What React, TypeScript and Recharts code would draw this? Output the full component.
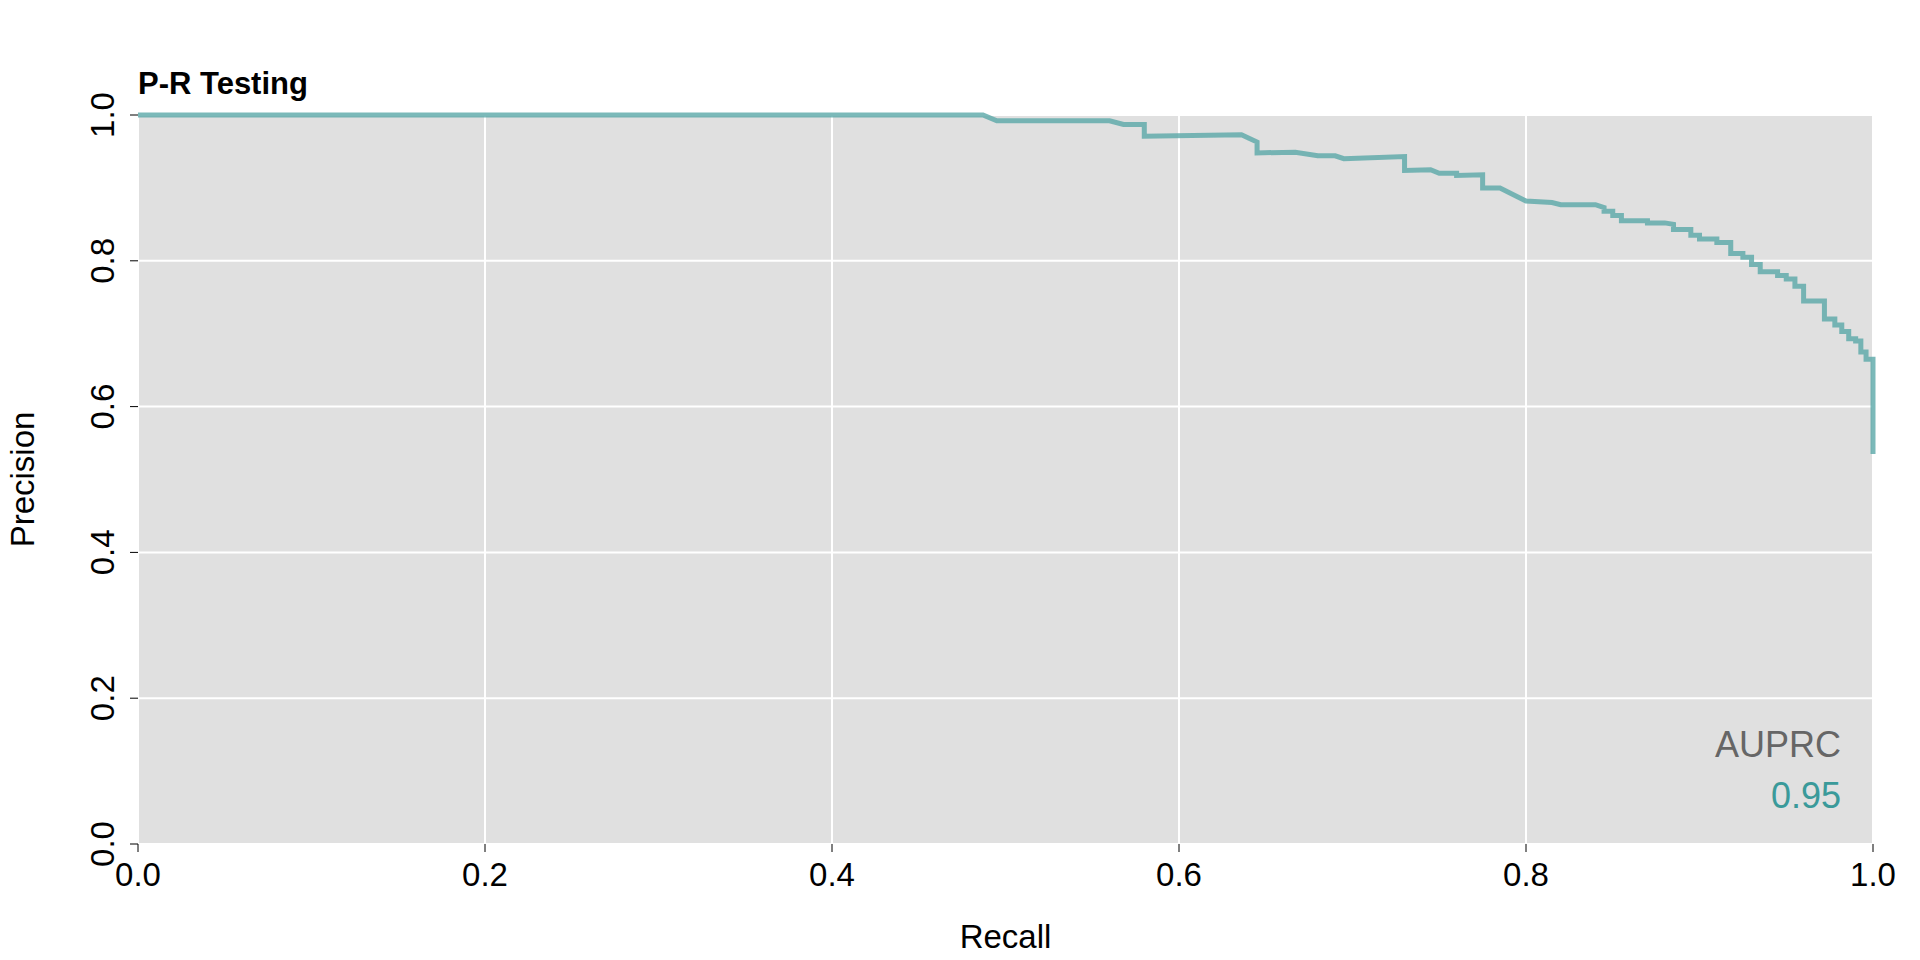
import React from 'react';
import { LineChart, Line, XAxis, YAxis, CartesianGrid, Label } from 'recharts';

const recall = [0, 0.487, 0.495, 0.56, 0.568, 0.58, 0.58, 0.636, 0.645, 0.645, 0.667, 0.68, 0.69, 0.695, 0.73, 0.73, 0.745, 0.75, 0.76, 0.76, 0.775, 0.775, 0.785, 0.8, 0.815, 0.82, 0.84, 0.845, 0.845, 0.85, 0.85, 0.855, 0.855, 0.87, 0.87, 0.88, 0.885, 0.885, 0.895, 0.895, 0.9, 0.9, 0.91, 0.91, 0.918, 0.918, 0.925, 0.925, 0.93, 0.93, 0.935, 0.935, 0.945, 0.945, 0.95, 0.95, 0.955, 0.955, 0.96, 0.96, 0.972, 0.972, 0.978, 0.978, 0.982, 0.982, 0.986, 0.986, 0.99, 0.99, 0.993, 0.993, 0.996, 0.996, 1, 1];
const precision = [1, 1, 0.992, 0.992, 0.987, 0.987, 0.971, 0.973, 0.963, 0.948, 0.949, 0.944, 0.944, 0.94, 0.943, 0.924, 0.925, 0.92, 0.92, 0.917, 0.918, 0.9, 0.9, 0.882, 0.88, 0.877, 0.877, 0.873, 0.868, 0.868, 0.862, 0.862, 0.855, 0.855, 0.852, 0.852, 0.85, 0.843, 0.843, 0.835, 0.835, 0.83, 0.83, 0.825, 0.825, 0.81, 0.81, 0.805, 0.805, 0.795, 0.795, 0.785, 0.785, 0.78, 0.78, 0.775, 0.775, 0.765, 0.765, 0.745, 0.745, 0.72, 0.72, 0.712, 0.712, 0.703, 0.703, 0.693, 0.693, 0.69, 0.69, 0.675, 0.675, 0.665, 0.665, 0.535];
const ticks = [0, 0.2, 0.4, 0.6, 0.8, 1];
const auprc = '0.95';

const data = recall.map((r, i) => ({ r, p: precision[i] }));
const FONT = '"Liberation Sans", Arial, sans-serif';

const YTick = ({ x, y, payload }: any) => (
  <text x={x - 14} y={y} transform={`rotate(-90 ${x - 14} ${y})`} textAnchor="middle" fontSize={33} fontFamily={FONT} fill="#000">
    {payload.value.toFixed(1)}
  </text>
);
const XTick = ({ x, y, payload }: any) => (
  <text x={x} y={y + 32} textAnchor="middle" fontSize={33} fontFamily={FONT} fill="#000">
    {payload.value.toFixed(1)}
  </text>
);

export default function App() {
  return (
    <div style={{ position: 'absolute', left: 0, top: 0, width: 1920, height: 960, background: '#fff', fontFamily: FONT }}>
      <LineChart width={1920} height={960} data={data} margin={{ top: 115, right: 47, left: 78, bottom: 56 }}>
        <CartesianGrid fill="#e0e0e0" stroke="#ffffff" strokeWidth={2} horizontalValues={ticks} verticalValues={ticks} />
        <XAxis dataKey="r" type="number" domain={[0, 1]} ticks={ticks} height={60} axisLine={false} tickSize={8} tickLine={{ stroke: '#000' }} tick={<XTick />}>
          <Label value="Recall" position="insideBottom" offset={-44} fontSize={33} fill="#000" fontFamily={FONT} />
        </XAxis>
        <YAxis type="number" domain={[0, 1]} ticks={ticks} width={60} axisLine={false} tickSize={8} tickLine={{ stroke: '#000' }} tick={<YTick />}>
          <Label value="Precision" angle={-90} position="insideLeft" offset={-56} fontSize={33} fill="#000" fontFamily={FONT} style={{ textAnchor: 'middle' }} />
        </YAxis>
        <Line dataKey="p" type="linear" stroke="#5aa8a8" strokeOpacity={0.8} strokeWidth={5} dot={false} isAnimationActive={false} />
        <text x={138} y={94} fontSize={31} fontWeight="bold" fontFamily={FONT} fill="#000">P-R Testing</text>
        <text x={1841} y={757} textAnchor="end" fontSize={36} fontFamily={FONT} fill="#666">AUPRC</text>
        <text x={1841} y={808} textAnchor="end" fontSize={36} fontFamily={FONT} fill="#3a9a9a">{auprc}</text>
      </LineChart>
    </div>
  );
}
